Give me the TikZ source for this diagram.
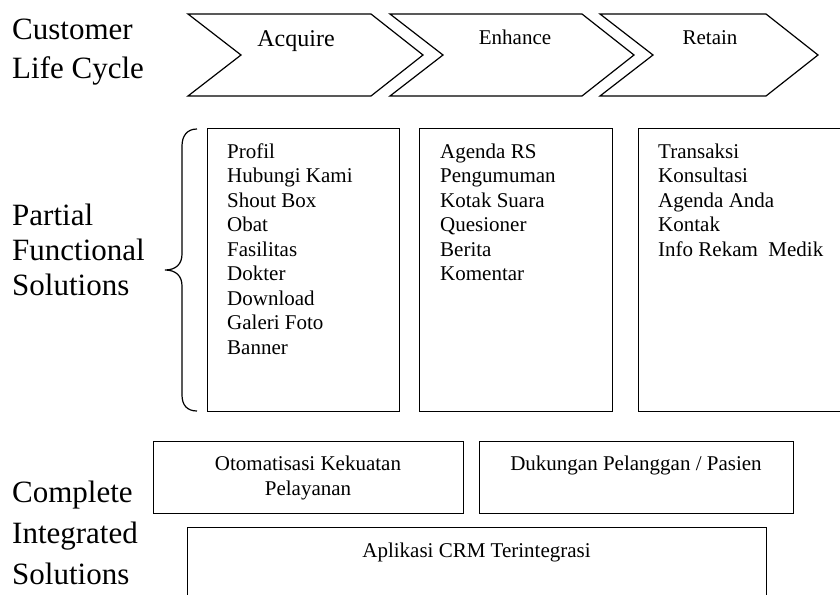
\documentclass[tikz,border=0pt]{standalone}
\usepackage{fontspec}
\setmainfont{Liberation Serif}
\usepackage{tikz}
\usetikzlibrary{positioning}
\tikzset{
  panel/.style={draw, line width=1.2pt, anchor=north west, inner sep=0pt},
  chev/.style={draw, line width=1.2pt, line join=miter},
  rowlabel/.style={anchor=north west, align=left, inner sep=0pt,
    font=\fontsize{31}{#1}\selectfont},
  rowlabel/.default=36,
  item/.style={anchor=base west, inner sep=0pt, font=\fontsize{21}{25}\selectfont},
  boxtext/.style={inner sep=0pt, align=center, font=\fontsize{21}{25}\selectfont}
}
% chevron outline: left x, tip x
\newcommand{\chevshape}[2]{%
  \draw[chev] (#1,14) -- (#2-52,14) -- (#2,55) -- (#2-52,96) -- (#1,96) -- (#1+53,55) -- cycle;}

\begin{document}
\begin{tikzpicture}[x=1pt, y=-1pt]
\useasboundingbox (0,0) rectangle (840,594);
\clip (0,0) rectangle (840,594);

% row labels
\node[rowlabel=39] (clc) at (12,19) {Customer\\Life Cycle};
\node[rowlabel=35] (pfs) at (12,204) {Partial\\Functional\\Solutions};
\node[rowlabel=41] (cis) at (12,481) {Complete\\Integrated\\Solutions};

% life cycle
\chevshape{188}{423}
\chevshape{390}{634}
\chevshape{600}{818}
\node[boxtext, anchor=base, font=\fontsize{24}{28}\selectfont] (acquire) at (296,47) {Acquire};
\node[boxtext, anchor=base] (enhance) at (515,45) {Enhance};
\node[boxtext, anchor=base] (retain) at (710,45) {Retain};

% brace
\draw[line width=1.2pt] (197,129) .. controls (187,129) and (182,136) .. (182,146)
  -- (182,254) .. controls (182,264) and (176,270) .. (165,270)
  .. controls (176,270) and (182,276) .. (182,286)
  -- (182,395) .. controls (182,405) and (187,411) .. (197,411);

% partial functional solutions
\node[panel, minimum width=192pt, minimum height=283pt] (acqbox) at (207,128) {};
\node[panel, minimum width=193pt, minimum height=283pt] (enhbox) at (419,128) {};
\node[panel, minimum width=240pt, minimum height=283pt] (retbox) at (638,128) {};

\foreach \txt [count=\i] in {Profil,Hubungi Kami,Shout Box,Obat,Fasilitas,Dokter,Download,Galeri Foto,Banner}
  \node[item] (acq-\i) at (227,{158+24.5*(\i-1)}) {\txt};
\foreach \txt [count=\i] in {Agenda RS,Pengumuman,Kotak Suara,Quesioner,Berita,Komentar}
  \node[item] (enh-\i) at (440,{158+24.5*(\i-1)}) {\txt};
\foreach \txt [count=\i] in {Transaksi,Konsultasi,Agenda Anda,Kontak,Info Rekam~ Medik}
  \node[item] (ret-\i) at (658,{158+24.5*(\i-1)}) {\txt};

% complete integrated solutions
\node[panel, minimum width=310pt, minimum height=72pt] (otobox) at (153,441) {};
\node[panel, minimum width=314pt, minimum height=72pt] (dukbox) at (479,441) {};
\node[panel, minimum width=579pt, minimum height=100pt] (crmbox) at (187,527) {};
\node[boxtext, anchor=north] (oto-t) at (308,456) {Otomatisasi Kekuatan\\Pelayanan};
\node[boxtext, anchor=base] (duk-t) at (636,470) {Dukungan Pelanggan / Pasien};
\node[boxtext, anchor=base] (crm-t) at (476.5,557) {Aplikasi CRM Terintegrasi};
\end{tikzpicture}
\end{document}
